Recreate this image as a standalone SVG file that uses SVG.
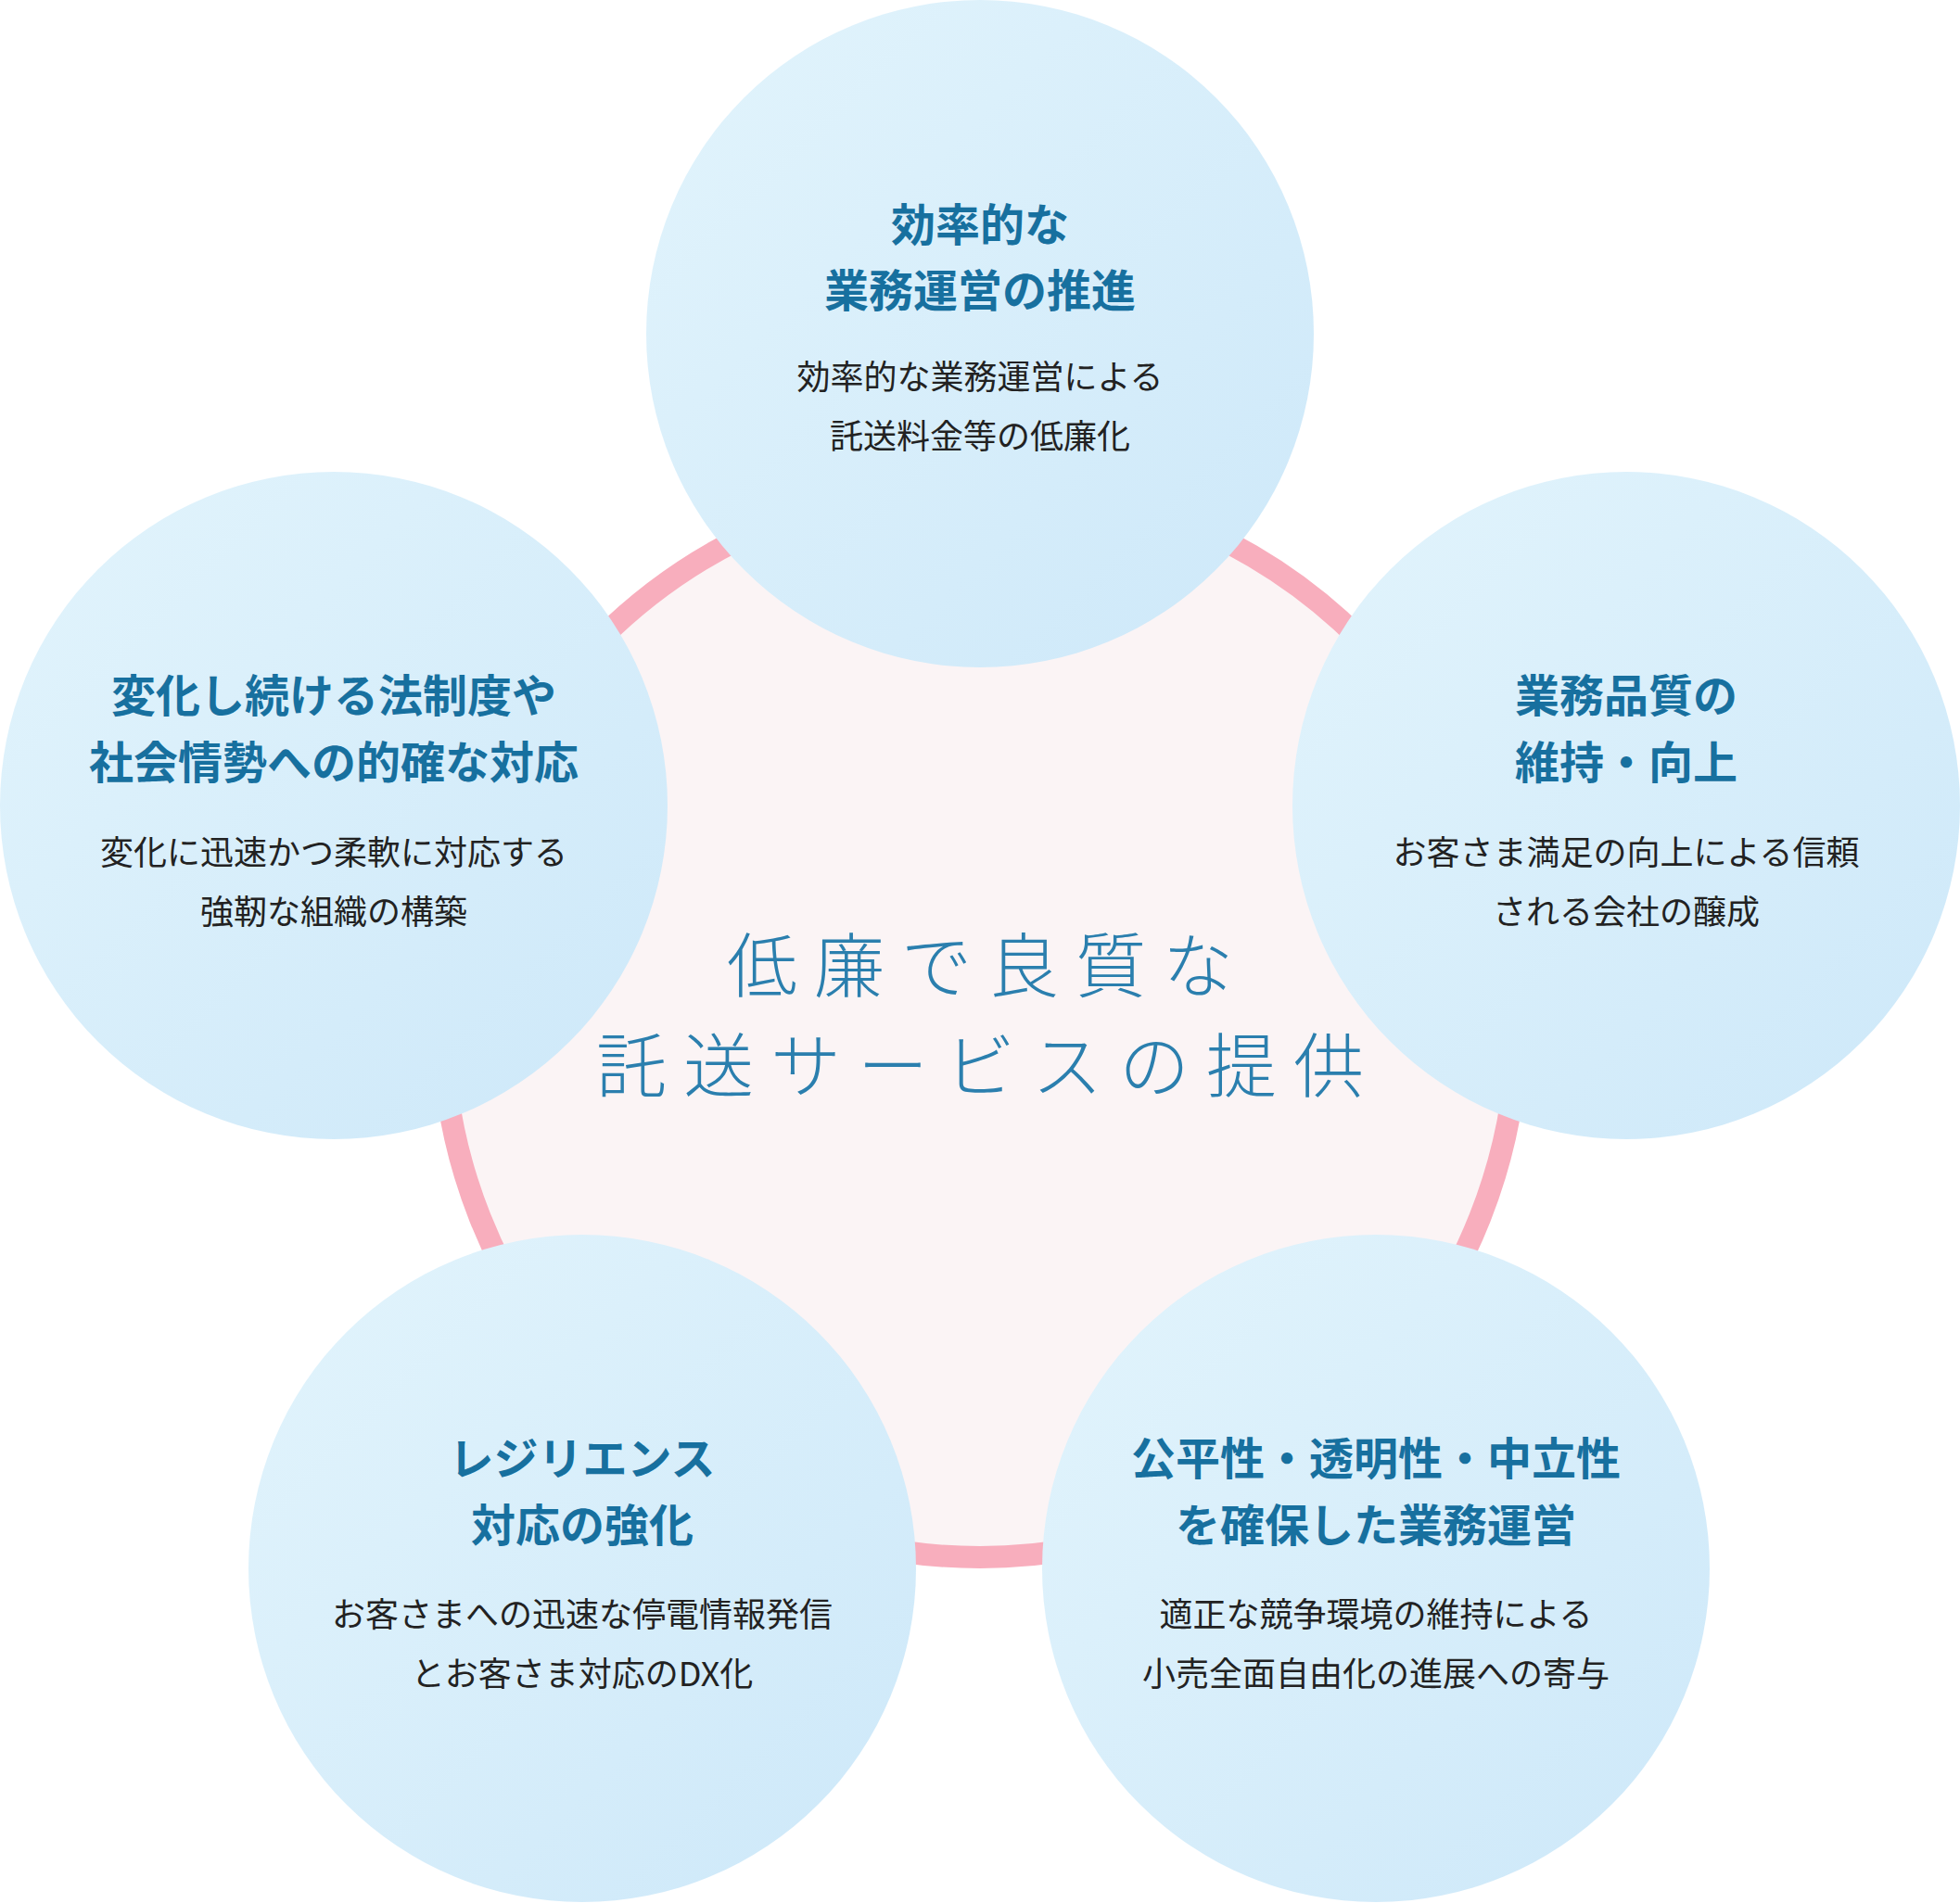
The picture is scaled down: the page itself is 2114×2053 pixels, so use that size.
<svg xmlns="http://www.w3.org/2000/svg" width="2114" height="2053" viewBox="0 0 2114 2053">
<defs>
<linearGradient id="g" x1="0" y1="0" x2="1" y2="1">
<stop offset="0" stop-color="#e2f4fc"/><stop offset="1" stop-color="#cde8f9"/>
</linearGradient>
<style>
.c{fill:url(#g)}
.t{font-family:"Noto Sans CJK JP",sans-serif;font-weight:700;font-size:48px;fill:#17709f;text-anchor:middle}
.b{font-family:"Noto Sans CJK JP",sans-serif;font-size:36px;fill:#222;text-anchor:middle}
.m{font-family:"Noto Sans CJK JP",sans-serif;font-weight:300;font-size:76px;fill:#2b7fae;text-anchor:middle;letter-spacing:18px}
</style>
</defs>
<g id="center">
<circle cx="1057" cy="1100" r="580" fill="#fbf4f5" stroke="#f8aebd" stroke-width="24"/>
<text class="m" x="1066" y="1070">低廉で良質な</text>
<text class="m" x="1066" y="1178">託送サービスの提供</text>
</g>
<g id="top">
<circle class="c" cx="1057" cy="360" r="360"/>
<text class="t" x="1057" y="260">効率的な</text>
<text class="t" x="1057" y="331">業務運営の推進</text>
<text class="b" x="1057" y="420">効率的な業務運営による</text>
<text class="b" x="1057" y="484">託送料金等の低廉化</text>
</g>
<g id="left">
<circle class="c" cx="360" cy="869" r="360"/>
<text class="t" x="360" y="768">変化し続ける法制度や</text>
<text class="t" x="360" y="840">社会情勢への的確な対応</text>
<text class="b" x="360" y="933">変化に迅速かつ柔軟に対応する</text>
<text class="b" x="360" y="997">強靭な組織の構築</text>
</g>
<g id="right">
<circle class="c" cx="1754" cy="869" r="360"/>
<text class="t" x="1754" y="768">業務品質の</text>
<text class="t" x="1754" y="840">維持・向上</text>
<text class="b" x="1754" y="933">お客さま満足の向上による信頼</text>
<text class="b" x="1754" y="997">される会社の醸成</text>
</g>
<g id="bottomleft">
<circle class="c" cx="628" cy="1692" r="360"/>
<text class="t" x="628" y="1591">レジリエンス</text>
<text class="t" x="628" y="1663">対応の強化</text>
<text class="b" x="628" y="1755">お客さまへの迅速な停電情報発信</text>
<text class="b" x="628" y="1819">とお客さま対応のDX化</text>
</g>
<g id="bottomright">
<circle class="c" cx="1484" cy="1692" r="360"/>
<text class="t" x="1484" y="1591">公平性・透明性・中立性</text>
<text class="t" x="1484" y="1663">を確保した業務運営</text>
<text class="b" x="1484" y="1755">適正な競争環境の維持による</text>
<text class="b" x="1484" y="1819">小売全面自由化の進展への寄与</text>
</g>
<g id="connectors"/>
</svg>
